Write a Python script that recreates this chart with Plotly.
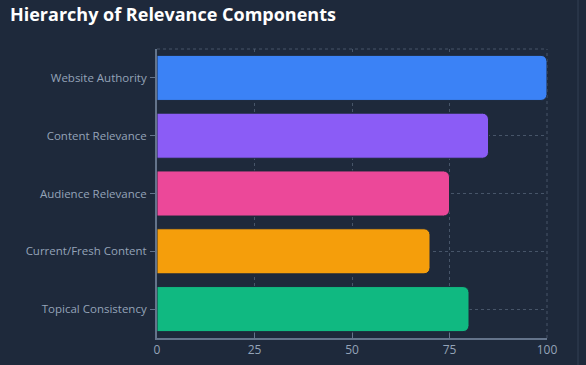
import plotly.graph_objects as go

categories = ["Website Authority", "Content Relevance", "Audience Relevance",
              "Current/Fresh Content", "Topical Consistency"]
values = [100, 85, 75, 70, 80]
colors = ["#3b82f6", "#8b5cf6", "#ec4899", "#f59e0b", "#10b981"]
x_ticks = [0, 25, 50, 75, 100]

fig = go.Figure(go.Bar(
    y=categories, x=values, orientation="h",
    marker=dict(color=colors, line=dict(color="#1e293b", width=1)),
    hoverinfo="x+y",
))

fig.update_layout(
    width=586, height=365,
    paper_bgcolor="#1e293b", plot_bgcolor="#1e293b",
    margin=dict(l=157, r=39, t=49, b=27, autoexpand=False),
    title=dict(text="<b>Hierarchy of Relevance Components</b>",
               x=0.017, xanchor="left", y=0.978, yanchor="top",
               font=dict(family="Open Sans", size=18, color="#ffffff")),
    font=dict(family="Open Sans", color="#94a3b8", size=12),
    bargap=0.22,
    barcornerradius=6,
    showlegend=False,
    shapes=[dict(type="line", xref="paper", yref="paper",
                 x0=1.0795, x1=1.0795, y0=-0.1, y1=1.17,
                 line=dict(color="#334155", width=1))],
)
fig.update_xaxes(
    range=[0, 100], tickvals=x_ticks, showgrid=True,
    gridcolor="#475569", griddash="3px,3px", gridwidth=1,
    showline=True, linecolor="#64748b", linewidth=2,
    ticks="inside", ticklen=5, tickcolor="#64748b",
    zeroline=False, mirror=False, automargin=False,
    tickfont=dict(color="#94a3b8", size=12),
)
fig.update_yaxes(
    autorange="reversed", showgrid=True,
    gridcolor="#475569", griddash="3px,3px", gridwidth=1,
    showline=True, linecolor="#64748b", linewidth=2,
    ticks="outside", ticklen=5, tickcolor="#64748b",
    ticklabelstandoff=1, automargin=False,
    tickfont=dict(color="#94a3b8", size=11.5),
)
fig.add_shape(type="line", xref="paper", yref="paper", x0=0, x1=1, y0=1, y1=1,
              line=dict(color="#475569", width=1, dash="3px,3px"), layer="below")
fig.add_shape(type="line", xref="paper", yref="paper", x0=1, x1=1, y0=0, y1=1,
              line=dict(color="#475569", width=1, dash="3px,3px"), layer="below")

fig.write_html(
    "out.html",
    config={"displayModeBar": False},
    post_script="document.body.style.margin='0';document.body.style.background='#1e293b';",
)
